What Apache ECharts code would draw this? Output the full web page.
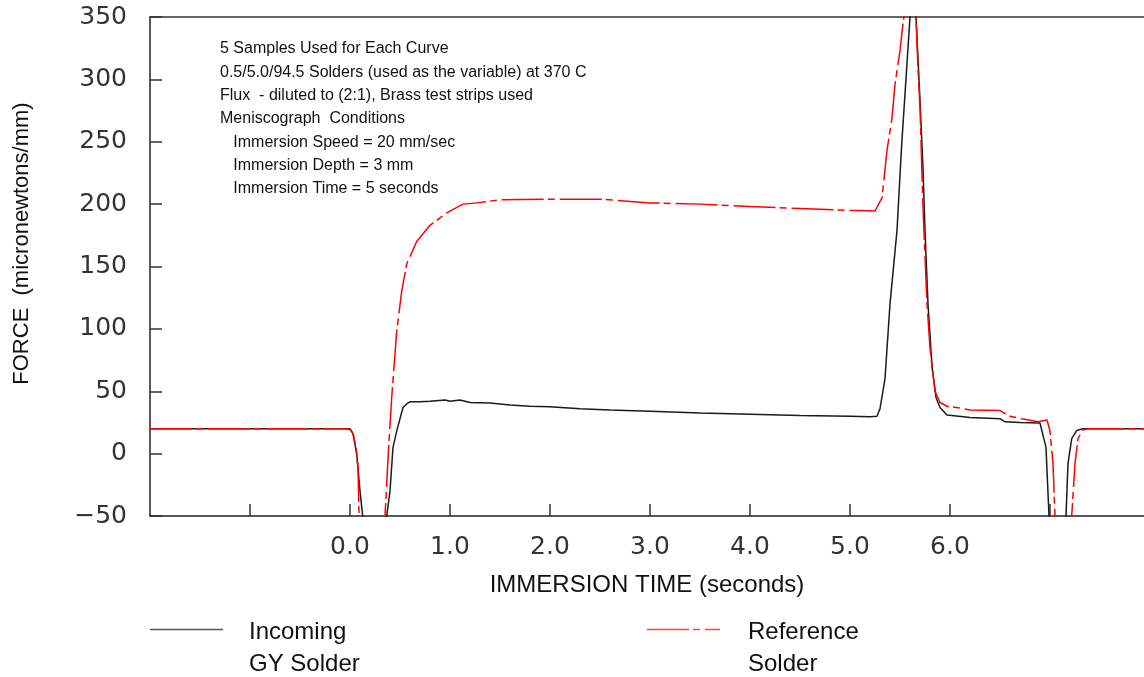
<!DOCTYPE html>
<html>
<head>
<meta charset="utf-8">
<script src="https://cdn.jsdelivr.net/npm/echarts@6/dist/echarts.min.js"></script>
<style>
html,body{margin:0;padding:0;background:#fff;}
#chart{width:1144px;height:677px;}
</style>
</head>
<body>
<div id="chart"></div>
<script>
// ---- Data ----
const incomingName = 'Incoming GY Solder';
const referenceName = 'Reference Solder';
const incomingLegendLines = ['Incoming', 'GY Solder'];
const referenceLegendLines = ['Reference', 'Solder'];

const incomingTime = [-2.0, 0.0, 0.03, 0.067, 0.10, 0.127, 0.15, 0.34, 0.367, 0.40, 0.43, 0.467, 0.48, 0.53, 0.57, 0.6, 0.7, 0.8, 0.95, 1.0, 1.1, 1.2, 1.4, 1.6, 1.8, 2.0, 2.3, 2.6, 3.0, 3.5, 4.0, 4.5, 5.0, 5.2, 5.27, 5.3, 5.35, 5.4, 5.47, 5.517, 5.567, 5.60, 5.63, 5.66, 5.70, 5.73, 5.75, 5.78, 5.82, 5.86, 5.90, 5.97, 6.2, 6.5, 6.55, 6.7, 6.9, 6.92, 6.96, 6.99, 7.01, 7.14, 7.16, 7.18, 7.217, 7.267, 7.33, 7.94];
const incomingForce = [20, 20, 16, 0, -30, -50, -100, -100, -50, -30, 5, 18, 22, 37, 40, 41.5, 41.5, 42, 43, 42, 43, 41, 40.5, 39, 38, 37.5, 36, 35, 34, 32.5, 31.5, 30.5, 30, 29.5, 30, 36, 60, 120, 179, 248, 309, 350, 368, 350, 283, 229, 179, 120, 70, 45, 37, 31, 29, 28, 25.5, 25, 24.5, 24, 5, -50, -100, -100, -50, -8, 12, 18.5, 20, 20];

const referenceTime = [-2.0, -0.05, 0.0, 0.03, 0.06, 0.08, 0.09, 0.11, 0.33, 0.35, 0.383, 0.417, 0.467, 0.517, 0.567, 0.667, 0.8, 0.967, 1.13, 1.27, 1.5, 2.0, 2.5, 3.0, 3.5, 4.0, 4.5, 5.0, 5.25, 5.32, 5.37, 5.42, 5.45, 5.50, 5.53, 5.58, 5.63, 5.66, 5.68, 5.70, 5.73, 5.77, 5.80, 5.85, 5.90, 5.97, 6.1, 6.2, 6.5, 6.6, 6.72, 6.88, 6.97, 7.0, 7.03, 7.05, 7.07, 7.20, 7.217, 7.25, 7.28, 7.33, 7.38, 7.94];
const referenceForce = [20, 20, 19.5, 16, 5, -11, -48, -100, -100, -50, 0, 45, 98, 130, 152, 170, 183, 193, 200, 201, 203.5, 204, 204, 201, 200, 198, 196.5, 195, 194.5, 205, 243, 269, 296, 323, 345, 372, 372, 350, 309, 277, 197, 120, 85, 50, 41, 38, 36.5, 35, 34.5, 30, 28, 25.6, 27, 18, -8, -50, -100, -100, -50, -8, 12, 19, 20, 20];

const xTickValues = [-1, 0, 1, 2, 3, 4, 5, 6, 7];
const xLabelValues = [0, 1, 2, 3, 4, 5, 6];
const yTickLabels = ['−50', '0', '50', '100', '150', '200', '250', '300', '350'];

const notes = [
  '5 Samples Used for Each Curve',
  '0.5/5.0/94.5 Solders (used as the variable) at 370 C',
  'Flux  - diluted to (2:1), Brass test strips used',
  'Meniscograph  Conditions',
  '   Immersion Speed = 20 mm/sec',
  '   Immersion Depth = 3 mm',
  '   Immersion Time = 5 seconds'
];

// ---- Build ----
const zip = (a, b) => a.map((t, i) => [t, b[i]]);
const labelFont = 'DejaVu Sans';
const textFont = 'Liberation Sans';
const incomingStyle = {color: '#1a1a1a', width: 1.5};
const referenceStyle = {color: '#ff0000', width: 1.5, type: [42, 4, 7, 5]};

const chart = echarts.init(document.getElementById('chart'), null, {renderer: 'canvas'});

const noteGraphics = notes.map((line, i) => ({
  type: 'text',
  left: 220,
  top: 41 + i * 23.3,
  style: {text: line, font: '16px "Liberation Sans"', fill: '#111'}
}));

function legendGraphics(x, lines, style, textX) {
  const out = [{
    type: 'line',
    shape: {x1: x, y1: 629.5, x2: x + 73, y2: 629.5},
    style: {stroke: style.color === '#1a1a1a' ? '#555' : '#ff4040', lineWidth: 1.6, lineDash: style.type && Array.isArray(style.type) ? style.type : null}
  }];
  lines.forEach((t, i) => out.push({
    type: 'text',
    x: textX,
    y: 632 + i * 32,
    style: {text: t, font: '24px "Liberation Sans"', fill: '#111', textVerticalAlign: 'middle', verticalAlign: 'middle'}
  }));
  return out;
}

chart.setOption({
  animation: false,
  backgroundColor: '#ffffff',
  grid: {left: 150, right: 0, top: 17, bottom: 161, containLabel: false},
  xAxis: [{
    type: 'value',
    min: -2,
    max: 7.94,
    interval: 1,
    name: 'IMMERSION TIME (seconds)',
    nameLocation: 'middle',
    nameGap: 57,
    nameTextStyle: {fontFamily: textFont, fontSize: 24, color: '#111'},
    axisLine: {show: true, onZero: false, lineStyle: {color: '#222', width: 1.5}},
    axisTick: {show: true, inside: true, length: 12, customValues: xTickValues, lineStyle: {color: '#333', width: 1.5}},
    splitLine: {show: false},
    axisLabel: {
      margin: 19,
      fontFamily: labelFont,
      fontSize: 25,
      color: '#333',
      customValues: xLabelValues,
      formatter: v => Number(v).toFixed(1)
    }
  }, {
    type: 'value',
    position: 'top',
    min: -2,
    max: 7.94,
    axisLine: {show: true, onZero: false, lineStyle: {color: '#333', width: 1.5}},
    axisTick: {show: false},
    axisLabel: {show: false},
    splitLine: {show: false}
  }],
  yAxis: {
    type: 'value',
    min: -50,
    max: 350,
    interval: 50,
    name: 'FORCE  (micronewtons/mm)',
    nameLocation: 'middle',
    nameGap: 117,
    nameTextStyle: {fontFamily: textFont, fontSize: 22, color: '#111', padding: [0, 0, 0, 46]},
    axisLine: {show: true, onZero: false, lineStyle: {color: '#222', width: 1.5}},
    axisTick: {show: true, inside: true, length: 12, lineStyle: {color: '#333', width: 1.5}},
    splitLine: {show: false},
    axisLabel: {
      margin: 23,
      fontFamily: labelFont,
      fontSize: 25,
      color: '#333',
      formatter: v => {
        const idx = Math.round((v + 50) / 50);
        return yTickLabels[idx] !== undefined ? yTickLabels[idx] : '';
      }
    }
  },
  legend: {show: false},
  graphic: noteGraphics
    .concat(legendGraphics(150, incomingLegendLines, incomingStyle, 249))
    .concat(legendGraphics(647, referenceLegendLines, referenceStyle, 748)),
  series: [{
    name: incomingName,
    type: 'line',
    data: zip(incomingTime, incomingForce),
    showSymbol: false,
    symbol: 'none',
    clip: true,
    z: 2,
    itemStyle: {color: incomingStyle.color},
    lineStyle: incomingStyle
  }, {
    name: referenceName,
    type: 'line',
    data: zip(referenceTime, referenceForce),
    showSymbol: false,
    symbol: 'none',
    clip: true,
    z: 3,
    itemStyle: {color: referenceStyle.color},
    lineStyle: referenceStyle
  }]
});
</script>
</body>
</html>
